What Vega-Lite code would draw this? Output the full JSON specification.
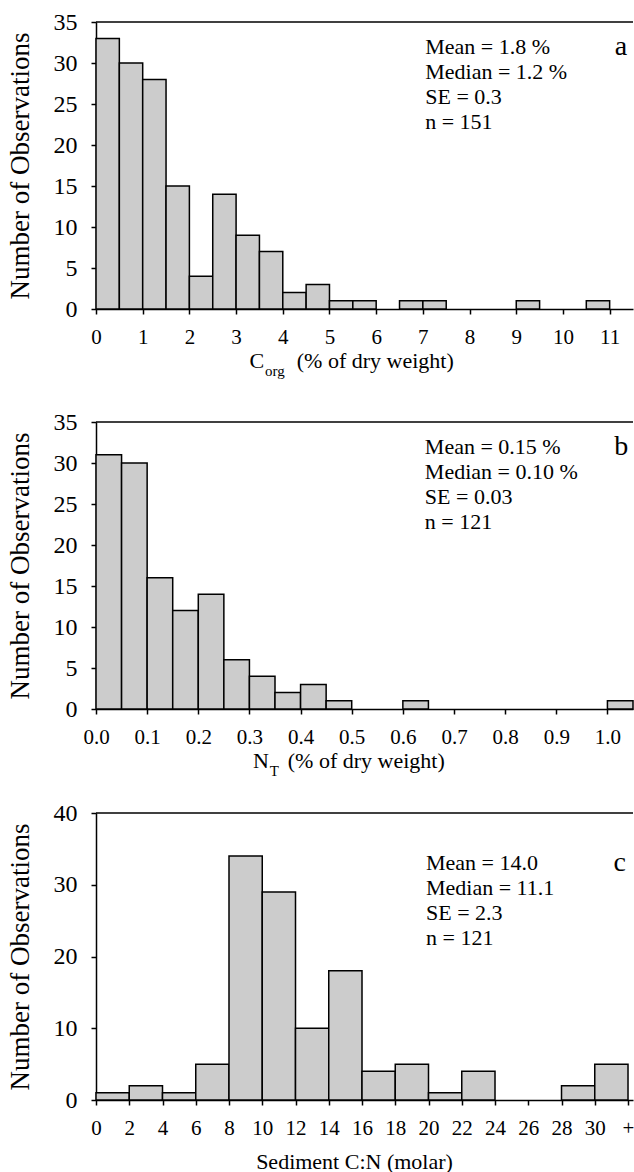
{
  "$schema": "https://vega.github.io/schema/vega-lite/v6.json",
  "background": "white",
  "padding": {"left": 5, "top": 10, "right": 0, "bottom": 0},
  "datasets": {
    "corg": [
      {"bin_start": 0, "bin_end": 0.5, "count": 33},
      {"bin_start": 0.5, "bin_end": 1, "count": 30},
      {"bin_start": 1, "bin_end": 1.5, "count": 28},
      {"bin_start": 1.5, "bin_end": 2, "count": 15},
      {"bin_start": 2, "bin_end": 2.5, "count": 4},
      {"bin_start": 2.5, "bin_end": 3, "count": 14},
      {"bin_start": 3, "bin_end": 3.5, "count": 9},
      {"bin_start": 3.5, "bin_end": 4, "count": 7},
      {"bin_start": 4, "bin_end": 4.5, "count": 2},
      {"bin_start": 4.5, "bin_end": 5, "count": 3},
      {"bin_start": 5, "bin_end": 5.5, "count": 1},
      {"bin_start": 5.5, "bin_end": 6, "count": 1},
      {"bin_start": 6.5, "bin_end": 7, "count": 1},
      {"bin_start": 7, "bin_end": 7.5, "count": 1},
      {"bin_start": 9, "bin_end": 9.5, "count": 1},
      {"bin_start": 10.5, "bin_end": 11, "count": 1}
    ],
    "nt": [
      {"bin_start": 0, "bin_end": 0.05, "count": 31},
      {"bin_start": 0.05, "bin_end": 0.1, "count": 30},
      {"bin_start": 0.1, "bin_end": 0.15, "count": 16},
      {"bin_start": 0.15, "bin_end": 0.2, "count": 12},
      {"bin_start": 0.2, "bin_end": 0.25, "count": 14},
      {"bin_start": 0.25, "bin_end": 0.3, "count": 6},
      {"bin_start": 0.3, "bin_end": 0.35, "count": 4},
      {"bin_start": 0.35, "bin_end": 0.4, "count": 2},
      {"bin_start": 0.4, "bin_end": 0.45, "count": 3},
      {"bin_start": 0.45, "bin_end": 0.5, "count": 1},
      {"bin_start": 0.6, "bin_end": 0.65, "count": 1},
      {"bin_start": 1.0, "bin_end": 1.05, "count": 1}
    ],
    "cn": [
      {"bin_start": 0, "bin_end": 2, "count": 1},
      {"bin_start": 2, "bin_end": 4, "count": 2},
      {"bin_start": 4, "bin_end": 6, "count": 1},
      {"bin_start": 6, "bin_end": 8, "count": 5},
      {"bin_start": 8, "bin_end": 10, "count": 34},
      {"bin_start": 10, "bin_end": 12, "count": 29},
      {"bin_start": 12, "bin_end": 14, "count": 10},
      {"bin_start": 14, "bin_end": 16, "count": 18},
      {"bin_start": 16, "bin_end": 18, "count": 4},
      {"bin_start": 18, "bin_end": 20, "count": 5},
      {"bin_start": 20, "bin_end": 22, "count": 1},
      {"bin_start": 22, "bin_end": 24, "count": 4},
      {"bin_start": 28, "bin_end": 30, "count": 2},
      {"bin_start": 30, "bin_end": 32, "count": 5}
    ]
  },
  "config": {
    "view": {"stroke": null},
    "font": "Liberation Serif",
    "axis": {
      "grid": false,
      "domainColor": "black",
      "domainWidth": 1.5,
      "tickColor": "black",
      "tickWidth": 1.5,
      "tickSize": 5,
      "labelColor": "black",
      "titleColor": "black",
      "labelFont": "Liberation Serif",
      "titleFont": "Liberation Serif",
      "titleFontWeight": "normal"
    },
    "axisX": {"labelFontSize": 21, "labelPadding": 12, "labelAngle": 0, "labelFlush": false, "labelOverlap": false, "titleFontSize": 22},
    "axisY": {"labelFontSize": 24, "labelPadding": 14, "titleFontSize": 27, "titlePadding": 19, "labelOverlap": false},
    "text": {"font": "Liberation Serif", "color": "black"}
  },
  "spacing": 22,
  "vconcat": [
    {
      "spacing": 31,
      "vconcat": [
        {
          "width": 537,
          "height": 287,
          "layer": [
            {
              "data": {"name": "corg"},
              "mark": {"type": "bar", "fill": "#cccccc", "stroke": "black", "strokeWidth": 1.5},
              "encoding": {
                "x": {"field": "bin_start", "type": "quantitative", "scale": {"domain": [0, 11.5], "nice": false, "zero": false},
                      "axis": {"values": [0, 1, 2, 3, 4, 5, 6, 7, 8, 9, 10, 11], "tickCount": 30, "format": "d", "title": null, "labelOverlap": false}},
                "x2": {"field": "bin_end"},
                "y": {"field": "count", "type": "quantitative", "scale": {"domain": [0, 35], "nice": false},
                      "axis": {"values": [0, 5, 10, 15, 20, 25, 30, 35], "tickCount": 30, "title": "Number of Observations"}},
                "y2": {"datum": 0}
              }
            },
            {
              "data": {"values": [{}]},
              "mark": {"type": "rule", "color": "black", "strokeWidth": 1.5},
              "encoding": {"y": {"datum": 35}}
            },
            {
              "data": {"values": [{}]},
              "mark": {"type": "text", "align": "left", "baseline": "middle", "fontSize": 22, "lineHeight": 25,
                       "text": ["Mean = 1.8 %", "Median = 1.2 %", "SE = 0.3", "n = 151"]},
              "encoding": {"x": {"datum": 7.05}, "y": {"datum": 32}}
            },
            {
              "data": {"values": [{}]},
              "mark": {"type": "text", "align": "center", "baseline": "middle", "fontSize": 28, "text": "a"},
              "encoding": {"x": {"datum": 11.24}, "y": {"datum": 32}}
            },
            {
              "data": {"values": [{}]},
              "mark": {"type": "text", "align": "right", "baseline": "middle", "fontSize": 22, "text": "C"},
              "encoding": {"x": {"datum": 3.6}, "y": {"datum": -6.34}}
            },
            {
              "data": {"values": [{}]},
              "mark": {"type": "text", "align": "left", "baseline": "middle", "fontSize": 15, "dx": 1, "text": "org"},
              "encoding": {"x": {"datum": 3.6}, "y": {"datum": -7.5}}
            },
            {
              "data": {"values": [{}]},
              "mark": {"type": "text", "align": "left", "baseline": "middle", "fontSize": 22, "text": "(% of dry weight)"},
              "encoding": {"x": {"datum": 4.3}, "y": {"datum": -6.34}}
            }
          ]
        },
        {
          "width": 537,
          "height": 287,
          "layer": [
            {
              "data": {"name": "nt"},
              "mark": {"type": "bar", "fill": "#cccccc", "stroke": "black", "strokeWidth": 1.5},
              "encoding": {
                "x": {"field": "bin_start", "type": "quantitative", "scale": {"domain": [0, 1.05], "nice": false, "zero": false},
                      "axis": {"values": [0, 0.1, 0.2, 0.3, 0.4, 0.5, 0.6, 0.7, 0.8, 0.9, 1.0], "tickCount": 30, "format": ".1f", "title": null, "labelOverlap": false}},
                "x2": {"field": "bin_end"},
                "y": {"field": "count", "type": "quantitative", "scale": {"domain": [0, 35], "nice": false},
                      "axis": {"values": [0, 5, 10, 15, 20, 25, 30, 35], "tickCount": 30, "title": "Number of Observations"}},
                "y2": {"datum": 0}
              }
            },
            {
              "data": {"values": [{}]},
              "mark": {"type": "rule", "color": "black", "strokeWidth": 1.5},
              "encoding": {"y": {"datum": 35}}
            },
            {
              "data": {"values": [{}]},
              "mark": {"type": "text", "align": "left", "baseline": "middle", "fontSize": 22, "lineHeight": 25,
                       "text": ["Mean = 0.15 %", "Median = 0.10 %", "SE = 0.03", "n = 121"]},
              "encoding": {"x": {"datum": 0.643}, "y": {"datum": 32}}
            },
            {
              "data": {"values": [{}]},
              "mark": {"type": "text", "align": "center", "baseline": "middle", "fontSize": 28, "text": "b"},
              "encoding": {"x": {"datum": 1.027}, "y": {"datum": 32}}
            },
            {
              "data": {"values": [{}]},
              "mark": {"type": "text", "align": "right", "baseline": "middle", "fontSize": 22, "text": "N"},
              "encoding": {"x": {"datum": 0.338}, "y": {"datum": -6.34}}
            },
            {
              "data": {"values": [{}]},
              "mark": {"type": "text", "align": "left", "baseline": "middle", "fontSize": 15, "dx": 1, "text": "T"},
              "encoding": {"x": {"datum": 0.338}, "y": {"datum": -7.5}}
            },
            {
              "data": {"values": [{}]},
              "mark": {"type": "text", "align": "left", "baseline": "middle", "fontSize": 22, "text": "(% of dry weight)"},
              "encoding": {"x": {"datum": 0.375}, "y": {"datum": -6.34}}
            }
          ]
        }
      ]
    },
    {
      "width": 537,
      "height": 287,
      "layer": [
        {
          "data": {"name": "cn"},
          "mark": {"type": "bar", "fill": "#cccccc", "stroke": "black", "strokeWidth": 1.5},
          "encoding": {
            "x": {"field": "bin_start", "type": "quantitative", "scale": {"domain": [0, 32.3], "nice": false, "zero": false},
                  "axis": {"values": [0, 2, 4, 6, 8, 10, 12, 14, 16, 18, 20, 22, 24, 26, 28, 30, 32], "tickCount": 30, "format": "d",
                           "labelExpr": "datum.value == 32 ? '+' : datum.label", "labelOverlap": false,
                           "title": "Sediment C:N (molar)", "titlePadding": 13, "titleX": 258}},
            "x2": {"field": "bin_end"},
            "y": {"field": "count", "type": "quantitative", "scale": {"domain": [0, 40], "nice": false},
                  "axis": {"values": [0, 10, 20, 30, 40], "tickCount": 30, "title": "Number of Observations"}},
            "y2": {"datum": 0}
          }
        },
        {
          "data": {"values": [{}]},
          "mark": {"type": "rule", "color": "black", "strokeWidth": 1.5},
          "encoding": {"y": {"datum": 40}}
        },
        {
          "data": {"values": [{}]},
          "mark": {"type": "text", "align": "left", "baseline": "middle", "fontSize": 22, "lineHeight": 25,
                   "text": ["Mean = 14.0", "Median = 11.1", "SE = 2.3", "n = 121"]},
          "encoding": {"x": {"datum": 19.85}, "y": {"datum": 33}}
        },
        {
          "data": {"values": [{}]},
          "mark": {"type": "text", "align": "center", "baseline": "middle", "fontSize": 28, "text": "c"},
          "encoding": {"x": {"datum": 31.5}, "y": {"datum": 33}}
        }
      ]
    }
  ]
}
